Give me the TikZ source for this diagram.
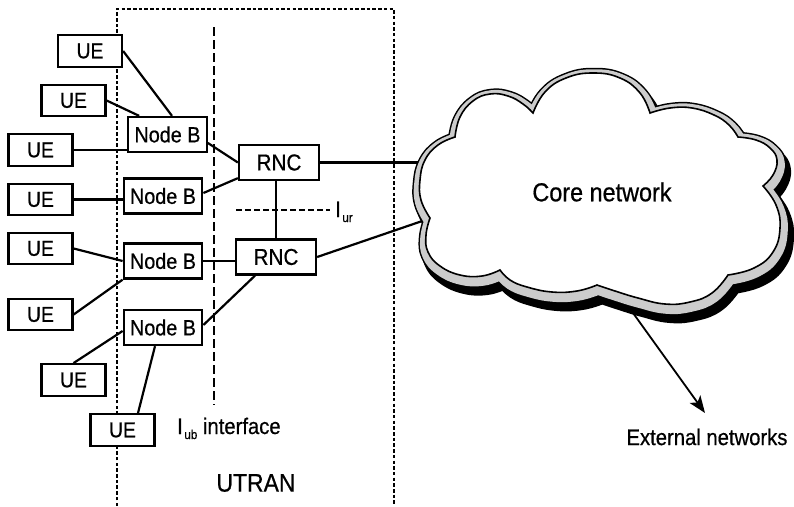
\documentclass[tikz,border=0pt]{standalone}
\usepackage{fontspec}
\setmainfont{Liberation Sans}[FakeStretch=0.9,FakeBold=0.6]
\usetikzlibrary{arrows.meta,calc}
\def\cloudP{plot[smooth,tension=0.75] coordinates{(455,137) (460,117) (473,101) (490,94) (508,96) (523,104) (533,113)}
 -- plot[smooth,tension=0.75] coordinates{(533,113) (545,92) (566,78) (593,73) (620,78) (640,93) (650,113)}
 -- plot[smooth,tension=0.75] coordinates{(650,113) (670,108) (692,108) (714,115) (729,125) (738,137)}
 -- plot[smooth,tension=0.75] coordinates{(738,137) (756,140) (770,148) (777,160) (773,175) (763,186)}
 -- plot[smooth,tension=0.75] coordinates{(763,186) (776,205) (780,228) (773,252) (754,268) (728,275)}
 -- plot[smooth,tension=0.75] coordinates{(728,275) (712,293) (690,302) (665,304) (638,298) (615,291) (597,285)}
 -- plot[smooth,tension=0.75] coordinates{(597,285) (577,291) (552,292) (527,287) (510,280) (500,270)}
 -- plot[smooth,tension=0.75] coordinates{(500,270) (482,276) (460,275) (440,266) (428,252) (426,235) (430,218)}
 -- plot[smooth,tension=0.75] coordinates{(430,218) (421,200) (420,180) (425,160) (438,145) (455,137)}
 -- cycle}
\begin{document}
\begin{tikzpicture}[x=1pt,y=-1pt,
  ue/.style={draw, line width=2.3pt, fill=white, inner sep=0pt, minimum width=64pt, minimum height=31.5pt, font=\fontsize{21.5}{21.5}\selectfont},
  nodeb/.style={ue, minimum width=78.5pt, minimum height=35pt, font=\fontsize{22}{22}\selectfont},
  rnc/.style={ue, minimum width=80pt, minimum height=35pt, font=\fontsize{23}{23}\selectfont},
  conn/.style={line width=2.2pt},
  lbl/.style={inner sep=0pt, font=\fontsize{22.5}{22.5}\selectfont}]
\useasboundingbox (0,0) rectangle (794,506);
% UTRAN dotted frame and interface lines
\coordinate (fa) at (117,506);
\coordinate (fb) at (117,9);
\coordinate (fc) at (394,9);
\coordinate (fd) at (394,506);
\draw[line width=2.1pt, dash pattern=on 3.5pt off 2.2pt] (fa) -- (fb) -- (fc) -- (fd);
\coordinate (iubA) at (214,27);
\coordinate (iubB) at (214,405);
\draw[line width=2.1pt, dash pattern=on 9pt off 4pt] (iubA) -- (iubB);
\coordinate (iurA) at (236,210);
\coordinate (iurB) at (330,210);
\draw[line width=2pt, dash pattern=on 6pt off 3pt] (iurA) -- (iurB);
% nodes
\node[ue] (u1) at (90,51) {UE};
\node[ue] (u2) at (73.5,100.5) {UE};
\node[ue] (u3) at (40.5,150) {UE};
\node[ue] (u4) at (40.5,199.5) {UE};
\node[ue] (u5) at (40.5,248.5) {UE};
\node[ue] (u6) at (40.5,314.5) {UE};
\node[ue] (u7) at (73.5,380) {UE};
\node[ue] (u8) at (122.5,430) {UE};
\node[nodeb] (b1) at (167.5,134.5) {Node B};
\node[nodeb] (b2) at (163,196) {Node B};
\node[nodeb] (b3) at (163,261) {Node B};
\node[nodeb] (b4) at (163,327.5) {Node B};
\node[rnc] (r1) at (279,162.5) {RNC};
\node[rnc] (r2) at (276,257) {RNC};
% free ends at the cloud
\coordinate (cl1) at (424,164);
\coordinate (cl2) at (431,218);
\coordinate (arrS) at (628,306);
\coordinate (arrE) at (705,413);
% connectors
\draw[conn] (u1.east) -- ($(b1.north)+(4.5,0)$);
\draw[conn] (u2.east) -- ($(b1.north west)+(12,0)$);
\draw[conn] (u3.east) -- (u3.east -| b1.west);
\draw[conn] ($(b1.east)+(0,8.5)$) -- (r1.west);
\draw[conn] (u4.east) -- (u4.east -| b2.west);
\draw[conn] ($(b2.east)+(0,-3)$) -- ($(r1.south west)+(0,-3)$);
\draw[conn] (r1.south -| r2.north) -- (r2.north);
\draw[conn] (u5.east) -- (b3.west);
\draw[conn] (u6.east) -- (b3.south west);
\draw[conn] (b3.east) -- (b3.east -| r2.west);
\draw[conn] (u7.north) -- ($(b4.west)+(0,3.5)$);
\draw[conn] ($(u8.north)+(15.5,0)$) -- ($(b4.south)+(-8,0)$);
\draw[conn] ($(b4.east)+(0,-2.5)$) -- ($(r2.south)+(-21,0)$);
\draw[conn] (r1.east) -- (r1.east -| cl1);
\draw[conn] (r2.east) -- (cl2);
\draw[line width=1.8pt, -{Stealth[length=17pt,width=13pt,inset=4pt]}] (arrS) -- (arrE);
% cloud
\begin{scope}[shift={(5,10)}]
  \filldraw[black, line width=18pt, line join=round] \cloudP;
\end{scope}
\begin{scope}[shift={(1,3)}]
  \draw[black, line width=16.5pt, line join=round] \cloudP;
  \draw[black!20, line width=13.5pt, line join=round] \cloudP;
\end{scope}
\draw[fill=white, line width=1.6pt] \cloudP;
% labels
\node[inner sep=0pt, font=\fontsize{26}{26}\selectfont] (core) at (602,192) {Core network};
\node[inner sep=0pt, font=\fontsize{22.5}{22.5}\selectfont] (ext) at (707,437) {External networks};
\node[inner sep=0pt, font=\fontsize{25.5}{25.5}\selectfont] (utran) at (256,483) {UTRAN};
\node[lbl, anchor=base west] (iub) at (177,434) {I\hspace{1.5pt}\raisebox{-5pt}{\fontsize{13}{13}\selectfont ub} interface};
\node[lbl, anchor=base west] (iur) at (335,217) {I\hspace{1.5pt}\raisebox{-5pt}{\fontsize{13}{13}\selectfont ur}};
\end{tikzpicture}
\end{document}
